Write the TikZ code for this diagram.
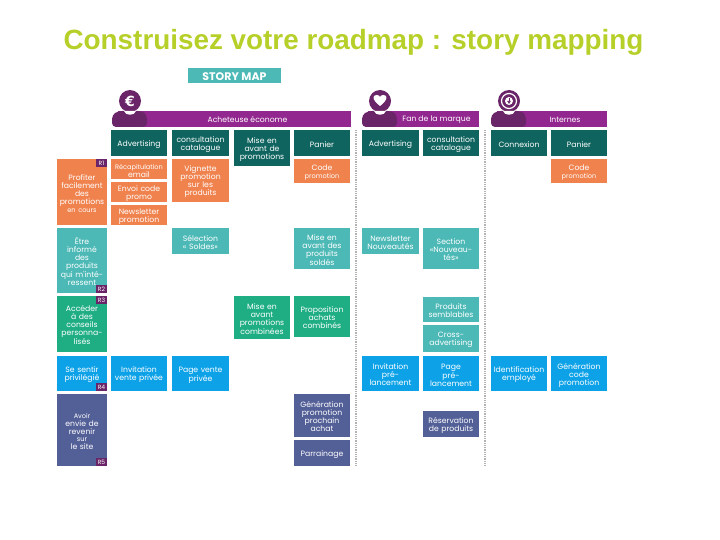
\documentclass[tikz,border=0pt]{standalone}
\usepackage{fontspec}
\usetikzlibrary{arrows.meta}
\setmainfont{Liberation Sans}
\newfontfamily\boxfont{Poppins}
\newfontfamily\symfont{DejaVu Sans}
\definecolor{cTitle}{HTML}{B7D029}
\definecolor{cOrange}{HTML}{F0824E}
\definecolor{cTeal}{HTML}{4CB9B6}
\definecolor{cGreen}{HTML}{1FAE84}
\definecolor{cBlue}{HTML}{0DA2E8}
\definecolor{cDark}{HTML}{0F645F}
\definecolor{cIndigo}{HTML}{535F97}
\definecolor{cPurple}{HTML}{92278F}
\definecolor{cPlum}{HTML}{6A2468}
\newcommand{\smalltile}{\fontsize{6.6}{7.6}\selectfont}
\tikzset{
  tile/.style={inner sep=0pt,outer sep=0pt},
  tiletext/.style={inner sep=0pt,outer sep=0pt,align=center,text=white,
    font=\boxfont\fontsize{7.7}{8}\selectfont},
  tag/.style={fill=cPlum,inner sep=0pt,outer sep=0pt,text=white,minimum width=11pt,minimum height=8pt,
    font=\boxfont\fontsize{6}{6}\selectfont},
  sep/.style={draw=black!30,line width=1.6pt,dash pattern=on 1pt off 0.8pt},
  head/.style={fill=cPlum,draw=none},
  glyph/.style={text=white,inner sep=0pt,font=\symfont\bfseries\fontsize{14}{14}\selectfont},
  barlabel/.style={text=white,inner sep=0pt,font=\boxfont\fontsize{7.7}{8}\selectfont}
}
\newcommand{\bx}[7]{%
  \pgfmathsetmacro{\cxv}{(#2+#4)/2}\pgfmathsetmacro{\cyv}{(#3+#5)/2}%
  \pgfmathsetmacro{\wv}{#4-#2}\pgfmathsetmacro{\hv}{#5-#3}%
  \node[tile,fill=#6,minimum width=\wv pt,minimum height=\hv pt] (#1) at (\cxv,\cyv) {};
  \node[tiletext,text width=\wv pt] (#1-text) at ([yshift=-1.5pt]#1.center) {#7};}
\newcommand{\persona}[4]{% name, left x, right x, label
  \fill[cPurple] (#2+6,111) -- (#3,111) -- (#3,127) -- (#2+6,127) -- cycle;
  \fill[cPlum,rounded corners=4pt] (#2,127) -- (#2,115) -- (#2+6,111) -- (#2+30,111) -- (#2+35,115) -- (#2+35,127) -- cycle;
  \fill[head] (#2+18,101) circle (11);
  \path[fill=white] (#2+12,111) .. controls (#2+13,116) and (#2+23,116) .. (#2+24,111) -- cycle;
  \node[barlabel] (#1) at ({(#2+#3)/2+16},120) {#4};}
\begin{document}
\begin{tikzpicture}[x=1pt,y=-1pt]
\useasboundingbox (0,0) rectangle (720,540);
\fill[white] (0,0) rectangle (720,540);
\node[inner sep=0pt,text=cTitle,font=\bfseries\fontsize{27.85}{30}\selectfont] (title) at (353.5,42) {Construisez votre roadmap : story mapping};
\bx{storymap}{188}{68}{281}{83}{cTeal}{\fontsize{11}{11}\selectfont\bfseries STORY MAP}

\draw[sep] (356,130) -- (356,466);
\draw[sep] (485,130) -- (485,466);

\persona{p1}{112}{351}{Acheteuse économe}
\node[glyph] (g1) at (130,101) {€};
\persona{p2}{362}{479}{Fan de la marque}
\fill[white] (380,106) .. controls (372,100) and (372,95) .. (376.5,95) .. controls (378.5,95) and (380,96) .. (380,97) .. controls (380,96) and (381.5,95) .. (383.5,95) .. controls (388,95) and (388,100) .. (380,106) -- cycle;
\persona{p3}{491}{607}{Internes}
\draw[white,line width=1.2pt] (509,101) circle (7.5);
\fill[white] (509,101) circle (4);
\draw[cPlum,line width=1pt,-{Latex[length=3pt,width=4pt]}] (509,98.5) -- (509,104);

% --- header row
\bx{a1}{111}{130}{167}{156}{cDark}{Advertising}
\bx{a2}{172}{130}{229}{156}{cDark}{consultation\\catalogue}
\bx{a3}{234}{130}{290}{166}{cDark}{Mise en\\avant de\\promotions}
\bx{a4}{294}{130}{350}{156}{cDark}{Panier}
\bx{a5}{362}{130}{419}{156}{cDark}{Advertising}
\bx{a6}{423}{130}{479}{156}{cDark}{consultation\\catalogue}
\bx{a7}{491}{130}{547}{156}{cDark}{Connexion}
\bx{a8}{551}{130}{607}{156}{cDark}{Panier}

% --- orange
\bx{r1}{57}{159}{107}{225}{cOrange}{Profiter\\facilement\\des\\promotions\\\smalltile en cours}
\bx{b1}{111}{159}{167}{179}{cOrange}{\smalltile Récapitulation\\\fontsize{7.7}{8}\selectfont email}
\bx{b2}{111}{182}{167}{202}{cOrange}{Envoi code\\promo}
\bx{b3}{111}{205}{167}{225}{cOrange}{Newsletter\\promotion}
\bx{b4}{172}{159}{229}{202}{cOrange}{Vignette\\promotion\\sur les\\produits}
\bx{b5}{294}{159}{350}{183}{cOrange}{Code\\\smalltile promotion}
\bx{b6}{551}{159}{607}{183}{cOrange}{Code\\\smalltile promotion}

% --- teal
\bx{r2}{57}{228}{107}{293}{cTeal}{Être\\informé\\des\\produits\\qui m'inté-\\ressent}
\bx{c1}{172}{228}{229}{254}{cTeal}{Sélection\\« Soldes»}
\bx{c2}{294}{228}{350}{269}{cTeal}{Mise en\\avant des\\produits\\soldés}
\bx{c3}{362}{228}{419}{254}{cTeal}{Newsletter\\Nouveautés}
\bx{c4}{423}{228}{479}{269}{cTeal}{Section\\«Nouveau-\\tés»}
\bx{c5}{423}{297}{479}{322}{cTeal}{Produits\\semblables}
\bx{c6}{423}{325}{479}{352}{cTeal}{Cross-\\advertising}

% --- green
\bx{r3}{57}{296}{107}{352}{cGreen}{Accéder\\à des\\conseils\\personna-\\lisés}
\bx{d1}{234}{296}{290}{339}{cGreen}{Mise en\\avant\\promotions\\combinées}
\bx{d2}{294}{296}{350}{337}{cGreen}{Proposition\\achats\\combinés}

% --- blue
\bx{r4}{57}{356}{107}{391}{cBlue}{Se sentir\\privilégié}
\bx{e1}{111}{356}{167}{391}{cBlue}{Invitation\\vente privée}
\bx{e2}{172}{356}{229}{391}{cBlue}{Page vente\\privée}
\bx{e3}{362}{356}{419}{391}{cBlue}{Invitation\\pré-\\lancement}
\bx{e4}{423}{356}{479}{391}{cBlue}{Page\\pré-\\lancement}
\bx{e5}{491}{356}{547}{391}{cBlue}{Identification\\employé}
\bx{e6}{551}{356}{607}{391}{cBlue}{Génération\\code\\promotion}

% --- indigo
\bx{r5}{57}{394}{107}{466}{cIndigo}{\smalltile Avoir\\\fontsize{7.7}{8}\selectfont envie de\\revenir\\\smalltile sur\\\fontsize{7.7}{8}\selectfont le site}
\bx{f1}{294}{394}{350}{437}{cIndigo}{Génération\\promotion\\prochain\\achat}
\bx{f2}{294}{440}{350}{466}{cIndigo}{Parrainage}
\bx{f3}{423}{411}{479}{437}{cIndigo}{Réservation\\de produits}

% --- tags
\node[tag] (t1) at (101.5,163) {R1};
\node[tag] (t2) at (101.5,289) {R2};
\node[tag] (t3) at (101.5,300) {R3};
\node[tag] (t4) at (101.5,387) {R4};
\node[tag] (t5) at (101.5,462) {R5};
\end{tikzpicture}
\end{document}
